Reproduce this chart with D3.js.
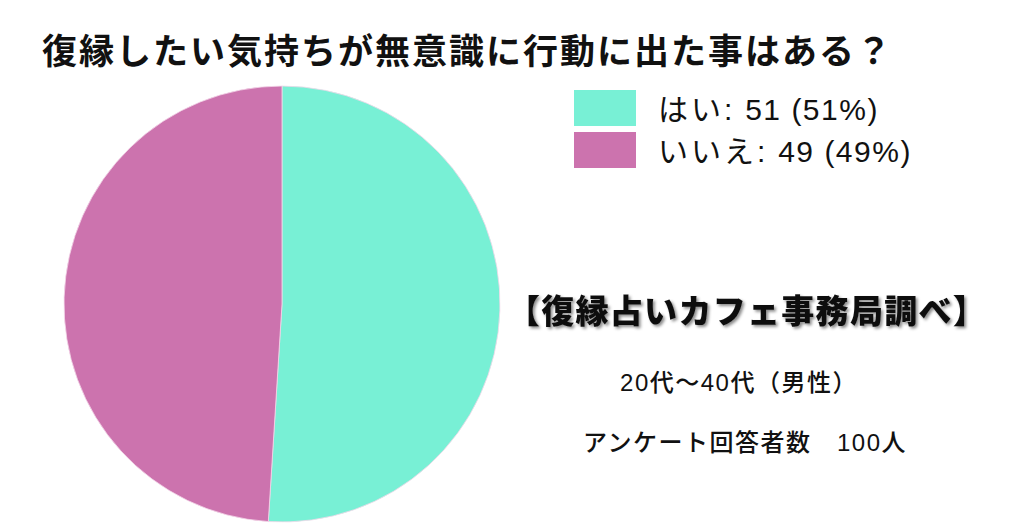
<!DOCTYPE html>
<html>
<head>
<meta charset="utf-8">
<script src="https://cdn.jsdelivr.net/npm/d3@7"></script>
<style>
  body { margin: 0; background: #fff; }
  svg { font-family: "Liberation Sans", "Noto Sans CJK JP", sans-serif; }
</style>
</head>
<body>
<div id="chart"></div>
<script>
var labels = ["はい", "いいえ"];
var counts = [51, 49];
var colors = ["#78f0d5", "#cc73ae"];
var title = "復縁したい気持ちが無意識に行動に出た事はある？";
var notes = ["【復縁占いカフェ事務局調べ】", "20代〜40代（男性）", "アンケート回答者数　100人"];

var width = 1024, height = 532;
var total = d3.sum(counts);

var svg = d3.select("#chart").append("svg")
  .attr("width", width)
  .attr("height", height);

// title
svg.append("text")
  .attr("x", 42)
  .attr("y", 64)
  .style("font-family", "'Noto Sans CJK JP', sans-serif")
  .style("font-size", "35px")
  .style("font-weight", "bold")
  .style("letter-spacing", "2px")
  .attr("fill", "#111")
  .text(title);

// pie
var pie = d3.pie().sort(null).value(function (d) { return d; });
var arc = d3.arc().innerRadius(0).outerRadius(218);

var g = svg.append("g")
  .attr("transform", "translate(282,304)");

g.selectAll("path")
  .data(pie(counts))
  .join("path")
  .attr("d", arc)
  .attr("fill", function (d, i) { return colors[i]; })
  .attr("stroke", "#f4d8ea")
  .attr("stroke-width", 0.8);

// legend
var legend = svg.append("g")
  .attr("transform", "translate(574,90)");

var item = legend.selectAll("g")
  .data(labels)
  .join("g")
  .attr("transform", function (d, i) { return "translate(0," + i * 42 + ")"; });

item.append("rect")
  .attr("width", 62)
  .attr("height", 36)
  .attr("fill", function (d, i) { return colors[i]; });

var legendText = item.append("text")
  .attr("x", 84)
  .attr("y", 30)
  .style("font-size", "30px")
  .attr("fill", "#111");

legendText.append("tspan")
  .style("letter-spacing", "3px")
  .text(function (d) { return d + ":"; });

legendText.append("tspan")
  .style("letter-spacing", "1.5px")
  .text(function (d, i) {
    return " " + counts[i] + " (" + Math.round(counts[i] / total * 100) + "%)";
  });

// notes on the right
var shadow = svg.append("defs").append("filter")
  .attr("id", "shadow")
  .attr("x", "-10%").attr("y", "-30%")
  .attr("width", "120%").attr("height", "160%");
shadow.append("feDropShadow")
  .attr("dx", 2).attr("dy", 2)
  .attr("stdDeviation", 1.5)
  .attr("flood-color", "#000")
  .attr("flood-opacity", 0.45);

svg.append("text")
  .attr("x", 747)
  .attr("y", 323)
  .attr("text-anchor", "middle")
  .style("font-family", "'Noto Sans CJK JP', sans-serif")
  .style("font-size", "33px")
  .style("font-weight", "900")
  .style("letter-spacing", "1.3px")
  .attr("filter", "url(#shadow)")
  .attr("fill", "#111")
  .text(notes[0]);

svg.append("text")
  .attr("x", 739)
  .attr("y", 391)
  .attr("text-anchor", "middle")
  .style("font-size", "24px")
  .style("font-weight", "500")
  .style("letter-spacing", "1.5px")
  .attr("fill", "#111")
  .text(notes[1]);

svg.append("text")
  .attr("x", 745)
  .attr("y", 451)
  .attr("text-anchor", "middle")
  .style("font-size", "24px")
  .style("font-weight", "500")
  .style("letter-spacing", "1.5px")
  .attr("fill", "#111")
  .text(notes[2]);
</script>
</body>
</html>
